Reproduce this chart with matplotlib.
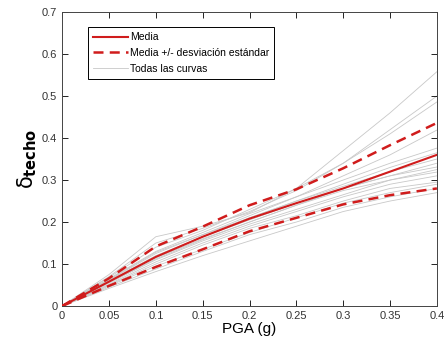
import matplotlib
matplotlib.use('Agg')
import matplotlib.pyplot as plt

plt.rcParams['font.family'] = ['Liberation Sans', 'DejaVu Sans']

# PGA values (g)
pga = [0, 0.05, 0.1, 0.15, 0.2, 0.25, 0.3, 0.35, 0.4]

# individual curves (delta techo)
curves = [
    [0, 0.075, 0.165, 0.190, 0.222, 0.280, 0.370, 0.460, 0.558],
    [0, 0.070, 0.150, 0.185, 0.225, 0.275, 0.340, 0.420, 0.500],
    [0, 0.068, 0.140, 0.180, 0.230, 0.280, 0.340, 0.410, 0.486],
    [0, 0.062, 0.125, 0.170, 0.215, 0.260, 0.310, 0.360, 0.419],
    [0, 0.065, 0.130, 0.175, 0.220, 0.260, 0.300, 0.340, 0.376],
    [0, 0.060, 0.120, 0.165, 0.210, 0.250, 0.290, 0.330, 0.365],
    [0, 0.058, 0.115, 0.160, 0.200, 0.240, 0.280, 0.310, 0.340],
    [0, 0.060, 0.118, 0.165, 0.205, 0.245, 0.280, 0.310, 0.331],
    [0, 0.055, 0.110, 0.155, 0.195, 0.230, 0.265, 0.300, 0.319],
    [0, 0.052, 0.105, 0.150, 0.190, 0.225, 0.260, 0.290, 0.310],
    [0, 0.050, 0.100, 0.145, 0.185, 0.215, 0.250, 0.280, 0.295],
    [0, 0.048, 0.095, 0.135, 0.175, 0.210, 0.245, 0.270, 0.290],
    [0, 0.045, 0.088, 0.130, 0.170, 0.200, 0.235, 0.260, 0.280],
    [0, 0.042, 0.082, 0.120, 0.155, 0.190, 0.225, 0.250, 0.270],
    [0, 0.063, 0.128, 0.170, 0.210, 0.250, 0.285, 0.320, 0.350],
    [0, 0.057, 0.112, 0.158, 0.200, 0.240, 0.275, 0.300, 0.325],
]

media = [0, 0.058, 0.117, 0.165, 0.208, 0.245, 0.280, 0.320, 0.360]
media_sup = [0, 0.066, 0.142, 0.189, 0.240, 0.278, 0.328, 0.383, 0.436]
media_inf = [0, 0.048, 0.093, 0.135, 0.178, 0.210, 0.242, 0.264, 0.280]

xticks = [0, 0.05, 0.1, 0.15, 0.2, 0.25, 0.3, 0.35, 0.4]
xticklabels = ['0', '0.05', '0.1', '0.15', '0.2', '0.25', '0.3', '0.35', '0.4']
yticks = [0, 0.1, 0.2, 0.3, 0.4, 0.5, 0.6, 0.7]
yticklabels = ['0', '0.1', '0.2', '0.3', '0.4', '0.5', '0.6', '0.7']

red = '#d01c1c'

fig = plt.figure(figsize=(4.44, 3.45), dpi=100)
ax = fig.add_axes([0.140, 0.113, 0.844, 0.852])

for i, c in enumerate(curves):
    ax.plot(pga, c, color='#c8c8c8', linewidth=0.6,
            label='Todas las curvas' if i == 0 else None, zorder=1)

ax.plot(pga, media, color=red, linewidth=1.5, label='Media', zorder=3)
ax.plot(pga, media_sup, color=red, linewidth=1.8, linestyle=(0, (4, 2.5)),
        label='Media +/- desviación estándar', zorder=3)
ax.plot(pga, media_inf, color=red, linewidth=1.8, linestyle=(0, (4, 2.5)), zorder=3)

ax.set_xlim(0, 0.4)
ax.set_ylim(0, 0.7)
ax.set_xticks(xticks)
ax.set_xticklabels(xticklabels)
ax.set_yticks(yticks)
ax.set_yticklabels(yticklabels)
ax.tick_params(direction='in', top=True, right=True, labelsize=8,
               labelcolor='#333333', length=4, width=0.6)
for s in ax.spines.values():
    s.set_linewidth(0.7)
    s.set_color('#444444')

ax.set_xlabel('PGA (g)', fontsize=11, labelpad=1)
ax.set_ylabel(r'$\mathrm{\delta}_{\mathbf{techo}}$', fontsize=15, labelpad=2)

handles, labels = ax.get_legend_handles_labels()
order = [labels.index('Media'), labels.index('Media +/- desviación estándar'),
         labels.index('Todas las curvas')]
leg = ax.legend([handles[i] for i in order], [labels[i] for i in order],
                loc='upper left', bbox_to_anchor=(0.069, 0.949), borderaxespad=0,
                fontsize=7.5, handlelength=3.3, handletextpad=0.2,
                labelspacing=0.55, fancybox=False, framealpha=1,
                edgecolor='black', borderpad=0.5)
leg.get_frame().set_linewidth(0.7)

fig.savefig('out.png', dpi=100)
